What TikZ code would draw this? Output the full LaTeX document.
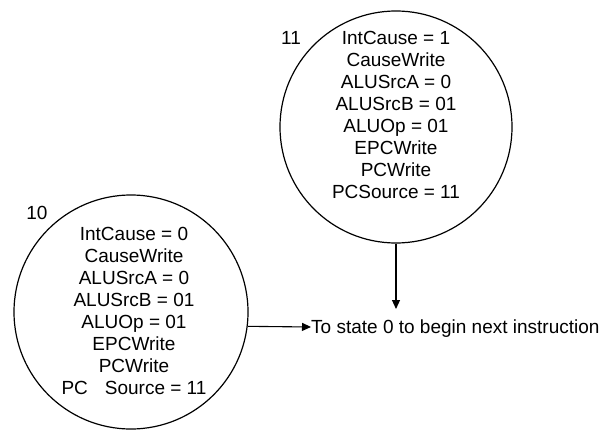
\documentclass[tikz,border=0pt]{standalone}
\usepackage{fontspec}
\setmainfont{Liberation Sans}
\usetikzlibrary{positioning,arrows.meta}

\tikzset{
  state/.style={draw,circle,line width=1.2pt,inner sep=0pt,minimum size=#1},
  acts/.style={align=center,font=\fontsize{19}{22}\selectfont,inner sep=0pt},
  num/.style={font=\fontsize{19}{22}\selectfont,inner sep=0pt},
  go/.style={-{Triangle[length=9pt,width=8pt]},line width=1.1pt}
}

\begin{document}
\begin{tikzpicture}[x=1pt,y=1pt]
\useasboundingbox (0,0) rectangle (607,429);
% the two states
\node[state=232pt] (s11) at (396,302) {};
\node[state=234pt] (s10) at (131,117) {};
\node[num] (n11) at (291,391) {11};
\node[num] (n10) at (37,216) {10};
% signals asserted in each state
\node[acts] (a11) at (396,314) {IntCause = 1\\CauseWrite\\ALUSrcA = 0\\ALUSrcB = 01\\ALUOp = 01\\EPCWrite\\PCWrite\\PCSource = 11};
\node[acts] (a10) at (134,118) {IntCause = 0\\CauseWrite\\ALUSrcA = 0\\ALUSrcB = 01\\ALUOp = 01\\EPCWrite\\PCWrite\\PC\hspace{17pt}Source = 11};
\node[num,anchor=west,text height=13.6pt,text depth=0pt] (next) at (311,102) {To state 0 to begin next instruction};

\draw[go] (s10.-7.4) -- (next.west);
\draw[go,shorten >=11pt] (s11.south) -- (s11.south |- next.north);
\end{tikzpicture}
\end{document}
